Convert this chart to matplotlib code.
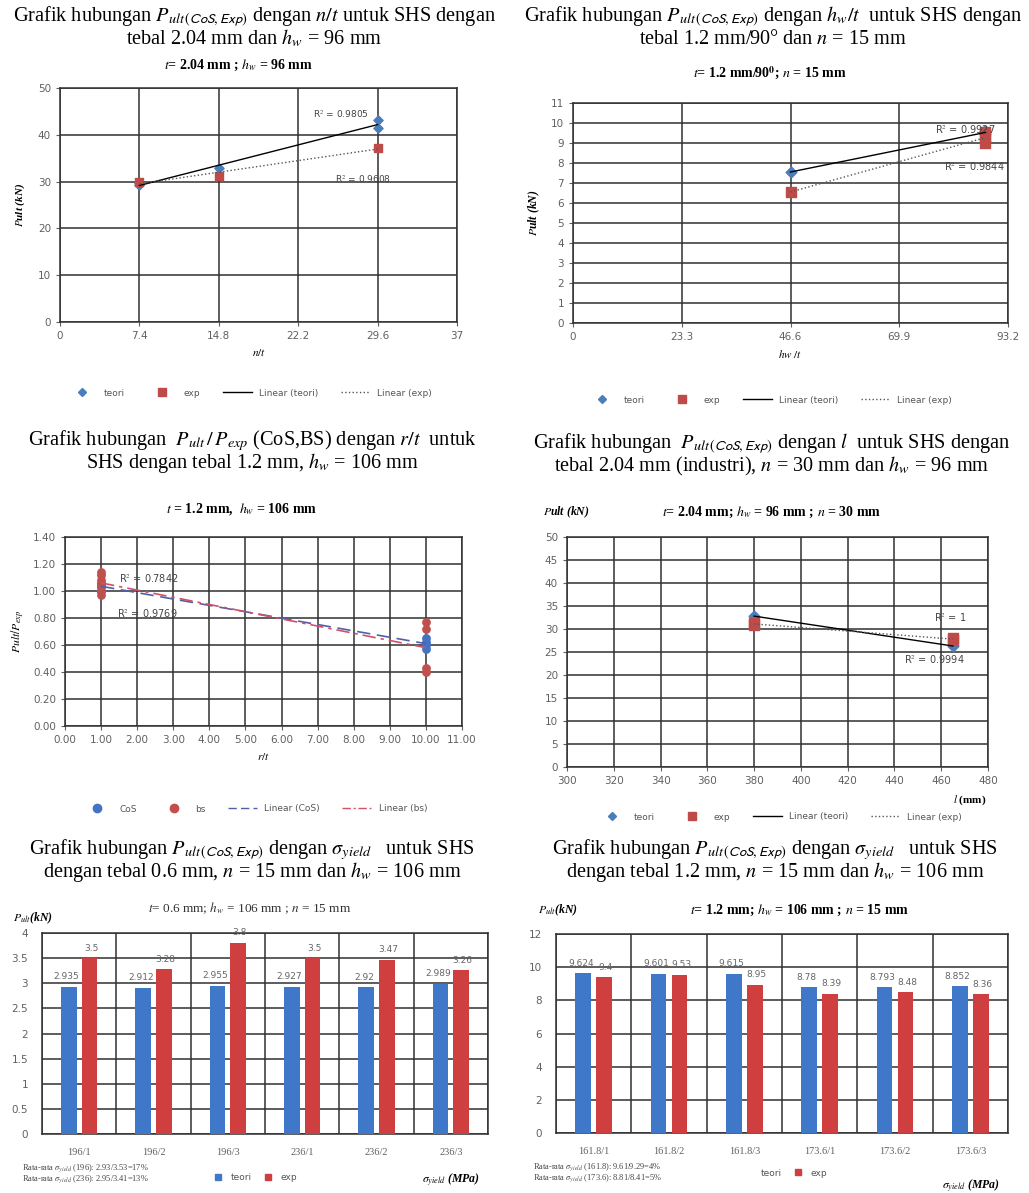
import matplotlib
matplotlib.use("Agg")
import matplotlib.pyplot as plt
from matplotlib.lines import Line2D
import numpy as np

plt.rcParams['font.family'] = ['Liberation Serif', 'DejaVu Serif']
plt.rcParams['mathtext.fontset'] = 'stix'

# ---------------------------------------------------------------
# Data
# panel 1 : Pult vs n/t
nt_teori_x = [7.4, 7.4, 14.8, 29.6, 29.6]
nt_teori_y = [29.6, 29.2, 32.8, 41.4, 43.2]
nt_exp_x = [7.4, 14.8, 29.6]
nt_exp_y = [30.0, 31.3, 37.2]
nt_ticks = [0, 7.4, 14.8, 22.2, 29.6, 37]

# panel 2 : Pult vs hw/t
hw_teori_x = [46.6, 88.3, 88.3]
hw_teori_y = [7.55, 9.6, 9.45]
hw_exp_x = [46.6, 88.3, 88.3, 88.3]
hw_exp_y = [6.55, 9.55, 9.0, 9.25]
hw_ticks = [0, 23.3, 46.6, 69.9, 93.2]

# panel 3 : Pult/Pexp vs r/t
rt_cos_x = [1, 1, 1, 1, 10, 10, 10, 10]
rt_cos_y = [1.00, 1.03, 1.05, 1.06, 0.57, 0.60, 0.62, 0.65]
rt_bs_x = [1, 1, 1, 1, 1, 1, 10, 10, 10, 10]
rt_bs_y = [0.97, 1.00, 1.05, 1.08, 1.12, 1.14, 0.40, 0.43, 0.72, 0.77]

# panel 4 : Pult vs l
l_teori_x = [380, 465]
l_teori_y = [32.8, 26.3]
l_exp_x = [380, 380, 465, 465]
l_exp_y = [30.8, 31.4, 28.0, 27.6]

# panel 5 : bars t = 0.6 mm
cat06 = ['196/1', '196/2', '196/3', '236/1', '236/2', '236/3']
teori06 = [2.935, 2.912, 2.955, 2.927, 2.92, 2.989]
exp06 = [3.5, 3.28, 3.8, 3.5, 3.47, 3.26]

# panel 6 : bars t = 1.2 mm
cat12 = ['161.8/1', '161.8/2', '161.8/3', '173.6/1', '173.6/2', '173.6/3']
teori12 = [9.624, 9.601, 9.615, 8.78, 8.793, 8.852]
exp12 = [9.4, 9.53, 8.95, 8.39, 8.48, 8.36]

# ---------------------------------------------------------------
W, H = 1029, 1193
fig = plt.figure(figsize=(W / 100, H / 100), dpi=100)
fig.patch.set_facecolor('white')

BLUE = '#4a7ebb'
RED = '#be4b48'
BARBLUE = '#3f78c8'
BARRED = '#cf3f3f'
GRID = '#303030'
TICK = '#606060'
TSIZE = 14.6   # big serif titles
SSIZE = 10     # bold subtitles


def box(l, t, r, b):
    return [l / W, 1 - b / H, (r - l) / W, (b - t) / H]


def ftext(x, y, s, **kw):
    fig.text(x / W, 1 - y / H, s, **kw)


def title2(cx, y1, y2, l1, l2, size=TSIZE):
    ftext(cx, y1, l1, ha='center', va='center', fontsize=size)
    ftext(cx, y2, l2, ha='center', va='center', fontsize=size)


def style(ax, xt, yt, xfmt=None, yfmt=None):
    ax.set_xticks(xt)
    ax.set_yticks(yt)
    if xfmt:
        ax.set_xticklabels([xfmt(v) for v in xt])
    if yfmt:
        ax.set_yticklabels([yfmt(v) for v in yt])
    ax.set_xlim(xt[0], xt[-1])
    ax.set_ylim(yt[0], yt[-1])
    ax.grid(True, color=GRID, lw=1.1)
    ax.set_axisbelow(True)
    for s in ax.spines.values():
        s.set_color(GRID)
        s.set_linewidth(1.1)
    ax.tick_params(labelsize=7.5, colors=TICK, length=3, width=0.8)
    for lb in ax.get_xticklabels() + ax.get_yticklabels():
        lb.set_family('DejaVu Sans')


def fitline(ax, x, y, **kw):
    k, c = np.polyfit(x, y, 1)
    xs = np.array([min(x), max(x)])
    ax.plot(xs, k * xs + c, **kw)


def leg4(ax, cx, cy, labels, mk):
    h = [Line2D([], [], ls='', marker=mk[0], color=mk[1], ms=mk[2]),
         Line2D([], [], ls='', marker=mk[3], color=mk[4], ms=mk[5]),
         Line2D([], [], ls=mk[6], color=mk[7], lw=1),
         Line2D([], [], ls=mk[8], color=mk[9], lw=1)]
    ax.legend(h, labels, loc='center', bbox_to_anchor=(cx / W, 1 - cy / H),
              bbox_transform=fig.transFigure, ncol=4, frameon=False,
              prop={'family': 'DejaVu Sans', 'size': 6.5}, handlelength=3.2,
              columnspacing=2.5, labelcolor='#555555')


fmt1 = lambda v: ('%g' % v)
fmt2 = lambda v: '%.2f' % v
SUB = r"_{ult\,(\mathsf{CoS,Exp})}"

# ---------------- panel 1 --------------------------------------
title2(254, 16, 38,
       r"Grafik hubungan $P" + SUB + r"$ dengan $n/t$ untuk SHS dengan",
       r"tebal 2.04 mm dan $h_w$ = 96 mm")
ftext(238, 65, r"$t$= 2.04 mm ; $h_w$ = 96 mm", ha='center', va='center',
      fontsize=SSIZE, fontweight='bold')
ax1 = fig.add_axes(box(60, 88, 457, 322))
style(ax1, nt_ticks, [0, 10, 20, 30, 40, 50], xfmt=fmt1)
ax1.scatter(nt_teori_x, nt_teori_y, marker='D', s=22, color=BLUE, zorder=3)
ax1.scatter(nt_exp_x, nt_exp_y, marker='s', s=40, color=RED, zorder=3)
fitline(ax1, nt_teori_x, nt_teori_y, color='black', lw=1, zorder=4)
fitline(ax1, nt_exp_x, nt_exp_y, color='#555555', lw=1, ls=':', zorder=4)
ax1.text(23.6, 43.5, r"R$^2$ = 0.9805", fontsize=6.5, family='DejaVu Sans', color='#444444')
ax1.text(25.6, 29.6, r"R$^2$ = 0.9608", fontsize=6.5, family='DejaVu Sans', color='#444444')
ax1.set_xlabel(r"$n/t$", fontsize=8, labelpad=4, fontweight='bold')
ax1.set_ylabel(r"$P$ult (kN)", fontsize=8, fontweight='bold', style='italic', labelpad=8)
leg4(ax1, 250, 393, ['teori', 'exp', 'Linear (teori)', 'Linear (exp)'],
     ['D', BLUE, 4, 's', RED, 6, '-', 'black', ':', '#555555'])

# ---------------- panel 2 --------------------------------------
title2(773, 16, 40,
       r"Grafik hubungan $P" + SUB + r"$ dengan $h_w/t$  untuk SHS dengan",
       r"tebal 1.2 mm/90° dan $n$ = 15 mm")
ftext(770, 73, r"$t$= 1.2 mm/90$^{\mathbf{0}}$; $n$ = 15 mm", ha='center', va='center',
      fontsize=SSIZE, fontweight='bold')
ax2 = fig.add_axes(box(573, 103, 1008, 323))
style(ax2, hw_ticks, list(range(0, 12)), xfmt=fmt1)
ax2.scatter(hw_teori_x, hw_teori_y, marker='D', s=30, color=BLUE, zorder=3)
ax2.scatter(hw_exp_x, hw_exp_y, marker='s', s=45, color=RED, zorder=3)
fitline(ax2, hw_teori_x, hw_teori_y, color='black', lw=1, zorder=4)
fitline(ax2, hw_exp_x, hw_exp_y, color='#555555', lw=1, ls=':', zorder=4)
ax2.text(77.5, 9.45, r"R$^2$ = 0.9927", fontsize=7, family='DejaVu Sans', color='#444444')
ax2.text(79.5, 7.6, r"R$^2$ = 0.9844", fontsize=7, family='DejaVu Sans', color='#444444')
ax2.set_xlabel(r"$hw$ /$t$", fontsize=8, labelpad=4, fontweight='bold')
ax2.set_ylabel(r"$P$ult (kN)", fontsize=8.5, fontweight='bold', style='italic', labelpad=6)
leg4(ax2, 770, 400, ['teori', 'exp', 'Linear (teori)', 'Linear (exp)'],
     ['D', BLUE, 4, 's', RED, 6, '-', 'black', ':', '#555555'])

# ---------------- panel 3 --------------------------------------
title2(252, 441, 463,
       r"Grafik hubungan  $P_{ult}\,/\,P_{exp}$ (CoS,BS) dengan $r/t$  untuk",
       r"SHS dengan tebal 1.2 mm, $h_w$ = 106 mm")
ftext(242, 509, r"$t$ = 1.2 mm,  $h_w$ = 106 mm", ha='center', va='center',
      fontsize=SSIZE, fontweight='bold')
ax3 = fig.add_axes(box(65, 537, 462, 726))
style(ax3, list(range(0, 12)), [0, 0.2, 0.4, 0.6, 0.8, 1.0, 1.2, 1.4],
      xfmt=fmt2, yfmt=fmt2)
ax3.scatter(rt_cos_x, rt_cos_y, marker='o', s=28, color='#4472c4', zorder=3)
ax3.scatter(rt_bs_x, rt_bs_y, marker='o', s=28, color='#c0504d', zorder=3)
fitline(ax3, rt_cos_x, rt_cos_y, color='#5060a8', lw=1.2, ls=(0, (8, 4)), zorder=4)
fitline(ax3, rt_bs_x, rt_bs_y, color='#d0506a', lw=1.2, ls=(0, (8, 3, 2, 3)), zorder=4)
ax3.text(1.5, 1.06, r"R$^2$ = 0.7842", fontsize=7, family='DejaVu Sans', color='#444444')
ax3.text(1.45, 0.80, r"R$^2$ = 0.9769", fontsize=7, family='DejaVu Sans', color='#444444')
ax3.set_xlabel(r"$r/t$", fontsize=8, labelpad=4, fontweight='bold')
ax3.set_ylabel(r"$Pult/P_{exp}$", fontsize=8.5, labelpad=4)
leg4(ax3, 255, 809, ['CoS', 'bs', 'Linear (CoS)', 'Linear (bs)'],
     ['o', '#4472c4', 6, 'o', '#c0504d', 6, (0, (6, 3)), '#5060a8', (0, (6, 2, 1.5, 2)), '#d0506a'])

# ---------------- panel 4 --------------------------------------
title2(772, 443, 466,
       r"Grafik hubungan  $P" + SUB + r"$ dengan $l$  untuk SHS dengan",
       r"tebal 2.04 mm (industri), $n$ = 30 mm dan $h_w$ = 96 mm")
ftext(772, 512, r"$t$= 2.04 mm; $h_w$ = 96 mm ; $n$ = 30 mm", ha='center', va='center',
      fontsize=SSIZE, fontweight='bold')
ftext(543, 512, r"$P$ult (kN)", ha='left', va='center', fontsize=8.5,
      fontweight='bold', style='italic')
ax4 = fig.add_axes(box(567, 537, 988, 767))
style(ax4, list(range(300, 481, 20)), list(range(0, 51, 5)))
ax4.scatter(l_teori_x, l_teori_y, marker='D', s=30, color=BLUE, zorder=3)
ax4.scatter(l_exp_x, l_exp_y, marker='s', s=45, color=RED, zorder=3)
fitline(ax4, l_teori_x, l_teori_y, color='black', lw=1, zorder=4)
fitline(ax4, l_exp_x, l_exp_y, color='#555555', lw=1, ls=':', zorder=4)
ax4.text(457, 31.5, r"R$^2$ = 1", fontsize=7, family='DejaVu Sans', color='#444444')
ax4.text(444, 22.3, r"R$^2$ = 0.9994", fontsize=7, family='DejaVu Sans', color='#444444')
ftext(986, 800, r"$l$ (mm)", ha='right', va='center', fontsize=8, fontweight='bold')
leg4(ax4, 780, 817, ['teori', 'exp', 'Linear (teori)', 'Linear (exp)'],
     ['D', BLUE, 4, 's', RED, 6, '-', 'black', ':', '#555555'])


# ---------------- bar panels -----------------------------------
def barpanel(rect, cats, teori, exp, yt, notes, nx, ny, legx, legy, show_blue=True):
    ax = fig.add_axes(box(*rect))
    x = np.arange(len(cats))
    ax.bar(x - 0.14, teori, 0.21, color=BARBLUE, zorder=3)
    ax.bar(x + 0.14, exp, 0.21, color=BARRED, zorder=3)
    for xi, v in zip(x, teori):
        ax.annotate('%g' % v, (xi - 0.17, v), xytext=(0, 4), textcoords='offset points',
                    ha='center', va='bottom', fontsize=6.5, color='#666666',
                    family='DejaVu Sans', annotation_clip=False, zorder=5)
    for xi, v in zip(x, exp):
        ax.annotate('%g' % v, (xi + 0.16, v), xytext=(0, 4), textcoords='offset points',
                    ha='center', va='bottom', fontsize=6.5, color='#666666',
                    family='DejaVu Sans', annotation_clip=False, zorder=5)
    ax.set_xlim(-0.5, len(cats) - 0.5)
    ax.set_ylim(yt[0], yt[-1])
    ax.set_yticks(yt)
    ax.set_yticklabels(['%g' % v for v in yt])
    ax.set_xticks(x)
    ax.set_xticklabels(cats)
    ax.set_xticks(np.arange(len(cats) + 1) - 0.5, minor=True)
    ax.grid(True, axis='y', color=GRID, lw=1.1)
    ax.grid(True, axis='x', which='minor', color=GRID, lw=1.1)
    ax.set_axisbelow(True)
    for s in ax.spines.values():
        s.set_color(GRID)
        s.set_linewidth(1.1)
    ax.tick_params(which='both', length=0, labelsize=7.5, colors=TICK, pad=10)
    for lb in ax.get_yticklabels():
        lb.set_family('DejaVu Sans')
    for i, n in enumerate(notes):
        ftext(nx, ny + i * 11, n, ha='left', va='center', fontsize=6, color='#444444')
    h = [Line2D([], [], ls='', marker='s', ms=5, color=BARBLUE if show_blue else 'none'),
         Line2D([], [], ls='', marker='s', ms=5, color=BARRED)]
    ax.legend(h, ['teori', 'exp'], loc='center', bbox_to_anchor=(legx / W, 1 - legy / H),
              bbox_transform=fig.transFigure, ncol=2, frameon=False,
              prop={'family': 'DejaVu Sans', 'size': 6.5}, handlelength=1.2,
              columnspacing=1.2, labelcolor='#555555')
    return ax


# panel 5
title2(252, 850, 872,
       r"Grafik hubungan $P" + SUB + r"$ dengan $\sigma_{yield}$   untuk SHS",
       r"dengan tebal 0.6 mm, $n$ = 15 mm dan $h_w$ = 106 mm")
ftext(250, 908, r"$t$= 0.6 mm; $h_w$ = 106 mm ; $n$ = 15 mm", ha='center', va='center',
      fontsize=SSIZE - 0.5, color='#333333')
ftext(13, 918, r"$P_{ult}$(kN)", ha='left', va='center', fontsize=8.5,
      fontweight='bold', style='italic')
barpanel((42, 933, 488, 1134), cat06, teori06, exp06, [0, 0.5, 1, 1.5, 2, 2.5, 3, 3.5, 4],
         [r"Rata-rata $\sigma_{yield}$ (196): 2.93/3.53=17%",
          r"Rata-rata $\sigma_{yield}$ (236): 2.95/3.41=13%"],
         22, 1168, 255, 1178)
ftext(480, 1179, r"$\sigma_{yield}$ (MPa)", ha='right', va='center', fontsize=8.5,
      fontweight='bold', style='italic')

# panel 6
title2(775, 850, 872,
       r"Grafik hubungan $P" + SUB + r"$ dengan $\sigma_{yield}$   untuk SHS",
       r"dengan tebal 1.2 mm, $n$ = 15 mm dan $h_w$ = 106 mm")
ftext(800, 910, r"$t$= 1.2 mm; $h_w$ = 106 mm ; $n$ = 15 mm", ha='center', va='center',
      fontsize=SSIZE, fontweight='bold')
ftext(538, 910, r"$P_{ult}$(kN)", ha='left', va='center', fontsize=8.5,
      fontweight='bold', style='italic')
barpanel((556, 934, 1008, 1133), cat12, teori12, exp12, [0, 2, 4, 6, 8, 10, 12],
         [r"Rata-rata $\sigma_{yield}$ (161.8): 9.61/9.29=4%",
          r"Rata-rata $\sigma_{yield}$ (173.6): 8.81/8.41=5%"],
         533, 1167, 785, 1173, show_blue=False)
ftext(1000, 1185, r"$\sigma_{yield}$ (MPa)", ha='right', va='center', fontsize=8.5,
      fontweight='bold', style='italic')

fig.savefig('out.png', dpi=100, facecolor='white')
